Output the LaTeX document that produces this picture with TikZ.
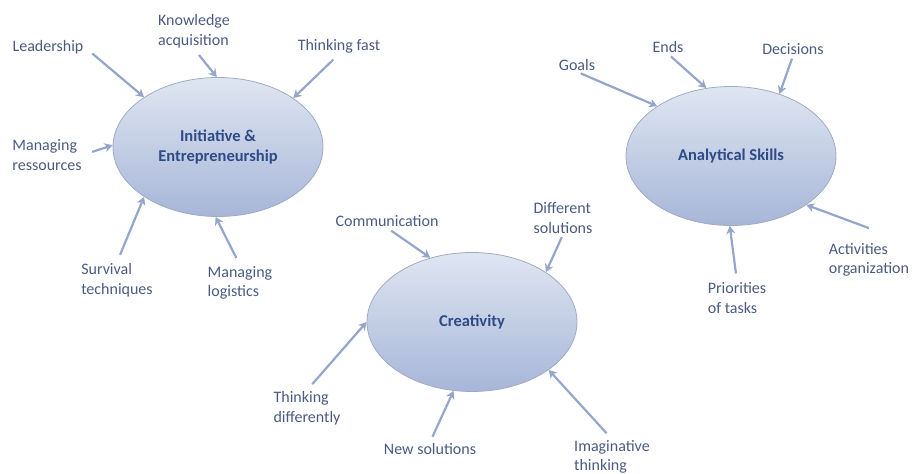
\documentclass[tikz,border=0pt]{standalone}
\usepackage{fontspec}
\setmainfont{Carlito}
\usetikzlibrary{shapes.geometric,arrows.meta}
\definecolor{labtext}{HTML}{4A5A82}
\definecolor{maintext}{HTML}{2E4A87}
\definecolor{arrowblue}{HTML}{94A6CC}
\definecolor{elltop}{HTML}{DFE6F2}
\definecolor{ellbot}{HTML}{A7B6D8}
\definecolor{ellline}{HTML}{A0ABC2}
\begin{document}
\begin{tikzpicture}[x=1pt,y=-1pt,
  skill/.style={ellipse,draw=ellline,line width=0.8pt,top color=elltop,bottom color=ellbot,
    minimum width=210pt,minimum height=139pt,inner sep=0pt,
    font=\fontsize{16.5}{20}\selectfont\bfseries,text=maintext,align=center},
  lab/.style={text=labtext,align=left,inner sep=1pt,font=\fontsize{16}{19.5}\selectfont},
  arr/.style={draw=arrowblue,line width=2.2pt,-{Stealth[length=8pt,width=9pt,inset=2.5pt]}}]
\useasboundingbox (0,0) rectangle (914,474);
\node[skill] (init) at (218,147) {Initiative \&\\Entrepreneurship};
\node[skill] (creat) at (472,322) {Creativity};
\node[skill] (anal) at (731,156) {Analytical Skills};
\node[lab] (lead) at (48,47) {Leadership};
\node[lab] (know) at (194,31) {Knowledge\\acquisition};
\node[lab] (fast) at (339,46) {Thinking fast};
\node[lab] (res) at (47,155) {Managing\\ressources};
\node[lab] (surv) at (117,280) {Survival\\techniques};
\node[lab] (logi) at (240,283) {Managing\\logistics};
\node[lab] (comm) at (387,221) {Communication};
\node[lab] (diff) at (563,218) {Different\\solutions};
\node[lab] (tdiff) at (307,408) {Thinking\\differently};
\node[lab] (newsol) at (430,449) {New solutions};
\node[lab] (imag) at (612,457) {Imaginative\\thinking};
\node[lab] (goals) at (577,65) {Goals};
\node[lab] (ends) at (668,47) {Ends};
\node[lab] (dec) at (793,49) {Decisions};
\node[lab] (activ) at (869,260) {Activities\\organization};
\node[lab] (prio) at (737,298) {Priorities\\of tasks};
\draw[arr,shorten <=10pt] (lead.east) -- (init.146);
\draw[arr,shorten <=8pt] (know.south) -- (init.91);
\draw[arr,shorten <=8pt] (fast.south) -- (init.33);
\draw[arr,shorten <=10pt] (res.east) -- (init.179);
\draw[arr,shorten <=8pt] (surv.north) -- (init.214);
\draw[arr,shorten <=8pt] (logi.north) -- (init.268);
\draw[arr,shorten <=5pt] (comm.south) -- (creat.123);
\draw[arr,shorten <=3pt] (diff.south) -- (creat.34);
\draw[arr,shorten <=8pt] (tdiff.north) -- (creat.180);
\draw[arr,shorten <=6pt] (newsol.north) -- (creat.255);
\draw[arr,shorten <=8pt] (imag.north) -- (creat.328);
\draw[arr,shorten <=4pt] (goals.south) -- (anal.146);
\draw[arr,shorten <=4pt] (ends.south) -- (anal.110);
\draw[arr,shorten <=3pt] (dec.south) -- (anal.52);
\draw[arr] ([yshift=14pt]activ.north) -- (anal.327);
\draw[arr,shorten <=8pt] (prio.north) -- (anal.269);
\end{tikzpicture}
\end{document}
